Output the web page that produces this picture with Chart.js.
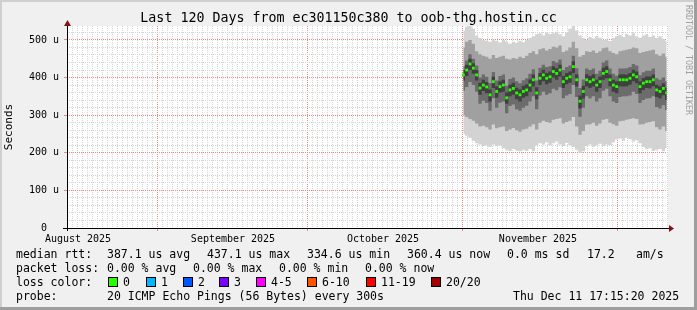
<!DOCTYPE html>
<html><head><meta charset="utf-8">
<script src="https://cdn.jsdelivr.net/npm/chart.js@4.4.1/dist/chart.umd.min.js"></script>
<style>
html,body{margin:0;padding:0;background:#F0F0F0;}
#wrap{position:relative;width:697px;height:310px;overflow:hidden;font-family:'DejaVu Sans Mono',monospace;}
#c{position:absolute;left:0;top:0;}
.t{position:absolute;font-size:11.5px;line-height:14px;white-space:pre;color:#000;}
.b{position:absolute;width:10px;height:10px;box-sizing:border-box;border:1px solid #000;}
#wm{position:absolute;left:684px;top:5px;writing-mode:vertical-rl;font-size:8.3px;line-height:9px;color:#a0a0a0;white-space:pre;}
</style></head><body>
<div id="wrap"><canvas id="c" width="697" height="310"></canvas><div id="wm">RRDTOOL / TOBI OETIKER</div></div>
<script>
const FONT = "'DejaVu Sans Mono', monospace";
const titleText = 'Last 120 Days from ec301150c380 to oob-thg.hostin.cc';

// sample time base: days since window start (Aug 13 17:15), one sample per ~16 h
const dayStart = 79.27, dayStep = 0.6667;

// median RTT (microseconds)
const medianRtt = [407,420,436,425,407,372,380,375,354,389,
 363,376,380,346,367,371,359,354,363,367,
 380,394,359,398,407,398,402,416,411,420,
 389,398,402,429,394,337,363,394,389,394,
 380,389,411,416,394,380,376,394,394,394,
 398,407,402,376,385,389,389,394,367,363,
 371,359];
// smoke envelopes (microseconds), outermost to innermost
const smokeMax = [525,535,537,530,512,505,500,498,495,502,
 497,493,500,496,490,495,492,498,494,500,
 505,510,515,518,512,520,516,518,522,515,
 510,520,530,537,525,512,505,500,508,504,
 510,506,500,502,497,505,510,514,508,516,
 512,518,510,506,512,515,508,512,505,510,
 502,498];
const smokeHi2 = [480,495,500,490,470,462,458,455,450,460,
 452,455,458,450,448,452,450,455,452,458,
 465,470,462,475,478,472,476,482,480,485,
 468,472,480,495,478,455,460,470,468,472,
 465,470,478,480,470,465,462,470,472,474,
 476,480,478,465,468,470,472,474,462,458,
 464,455];
const smokeHi1 = [430,445,462,450,432,400,408,402,385,415,
 392,404,408,378,396,400,390,385,393,398,
 410,422,392,426,434,428,430,444,440,448,
 420,428,432,458,425,372,395,424,420,424,
 410,418,440,445,424,410,405,424,424,425,
 428,436,432,406,414,418,418,424,398,394,
 400,390];
const smokeHi0 = [420,434,450,438,420,386,394,388,368,402,
 377,390,394,360,381,386,373,368,378,382,
 395,408,374,412,421,412,416,430,425,434,
 404,412,416,443,409,352,378,409,404,409,
 394,403,426,430,408,394,390,408,409,408,
 412,421,416,390,399,403,403,408,381,377,
 385,373];
const smokeLo0 = [392,404,420,410,392,354,364,358,336,372,
 346,360,362,330,350,354,342,336,346,350,
 362,376,342,380,390,382,386,400,394,403,
 372,382,386,412,376,318,344,376,372,376,
 362,372,394,398,377,362,358,377,376,377,
 381,390,385,358,367,372,371,377,348,344,
 353,340];
const smokeLo1 = [365,375,388,380,362,330,338,332,312,345,
 320,333,336,305,324,328,316,312,320,325,
 336,350,316,352,362,354,358,370,366,374,
 345,352,356,380,348,296,320,350,344,350,
 336,345,365,370,350,336,332,348,350,350,
 352,362,356,332,340,344,345,350,322,318,
 326,314];
const smokeLo2 = [300,295,290,285,278,270,272,268,262,275,
 265,268,270,258,262,266,260,256,262,264,
 270,276,262,280,285,282,280,288,290,292,
 278,282,285,295,270,248,258,275,276,280,
 272,278,288,290,280,276,272,284,285,288,
 290,292,290,275,276,280,282,284,268,262,
 270,258];
const smokeMin = [250,245,240,232,225,222,218,220,215,222,
 218,220,212,208,205,210,206,204,208,205,
 210,204,220,225,222,228,220,225,230,222,
 218,226,220,215,208,200,204,218,222,216,
 220,224,218,222,220,228,235,238,232,240,
 236,230,234,225,215,210,212,205,208,210,
 204,212];

const monthStarts = [18, 48, 79, 110];
const monthLabelDays = [2.2, 33.2, 63.2, 94.2];
const monthLabels = ['August 2025','September 2025','October 2025','November 2025'];
const yMajor = [0,100,200,300,400,500];
const yLabels = ['0  ','100 u','200 u','300 u','400 u','500 u'];
const lossColors = ['#26ff00','#00b8ff','#0059ff','#7e00ff','#ff00ff','#ff5500','#ff0000','#a10000'];
const lossLabels = ['0','1','2','3','4-5','6-10','11-19','20/20'];

const statLines = [
  [['median rtt:',16],['387.1 us avg',107],['437.1 us max',207],['334.6 us min',307],['360.4 us now',407],['0.0 ms sd',507],['17.2',587],['am/s',636]],
  [['packet loss:',16],['0.00 % avg',107],['0.00 % max',193],['0.00 % min',279],['0.00 % now',365]],
  [['loss color:',16]],
  [['probe:',16],['20 ICMP Echo Pings (56 Bytes) every 300s',107],['Thu Dec 11 17:15:20 2025',513]]
];
const lossBoxX = [108,146,183,219,256,307,366,431];

// ---- legend as HTML text ----
const wrap = document.getElementById('wrap');
statLines.forEach((line, li) => {
  line.forEach(([txt, x]) => {
    const s = document.createElement('div');
    s.className = 't'; s.textContent = txt;
    s.style.left = x + 'px'; s.style.top = (247 + li*14) + 'px';
    wrap.appendChild(s);
  });
});
lossColors.forEach((col, i) => {
  const b = document.createElement('div');
  b.className = 'b'; b.style.background = col;
  b.style.left = lossBoxX[i] + 'px'; b.style.top = '277px';
  wrap.appendChild(b);
  const s = document.createElement('div');
  s.className = 't'; s.textContent = lossLabels[i];
  s.style.left = (lossBoxX[i] + 15) + 'px'; s.style.top = (247 + 2*14) + 'px';
  wrap.appendChild(s);
});

const toPts = arr => arr.map((v, i) => ({x: dayStart + i*dayStep, y: v}));

const MAJ = 'rgb(238,136,136)';
const MIN = 'rgb(212,212,212)';
const NONE = 'rgba(0,0,0,0)';

const xTickVals = [];
for (let d = 0; d <= 120; d++) xTickVals.push(d);
monthLabelDays.forEach(d => xTickVals.push(d));
xTickVals.sort((a,b)=>a-b);
const yTickVals = [];
for (let v = 0; v <= 520; v += 20) yTickVals.push(v);

const bgPlugin = {
  id: 'bg',
  beforeDraw(ch) {
    const c = ch.ctx, a = ch.chartArea, W = ch.width, H = ch.height;
    c.save();
    c.fillStyle = '#F0F0F0'; c.fillRect(0,0,W,H);
    c.fillStyle = '#CFCFCF'; c.fillRect(0,0,W,2); c.fillRect(0,0,2,H);
    c.fillStyle = '#9E9E9E'; c.fillRect(0,H-3,W,3); c.fillRect(W-3,0,3,H);
    c.fillStyle = '#FFFFFF'; c.fillRect(a.left, a.top, a.right - a.left + 1, a.bottom - a.top);
    c.restore();
  },
  afterDraw(ch) {
    const c = ch.ctx, a = ch.chartArea;
    const y0 = Math.round(a.bottom) + 0.5, x0 = Math.round(a.left) + 0.5;
    c.save();
    c.strokeStyle = '#000'; c.lineWidth = 1;
    c.beginPath(); c.moveTo(a.left - 4, y0); c.lineTo(a.right + 2, y0); c.stroke();
    c.beginPath(); c.moveTo(x0, a.bottom + 3); c.lineTo(x0, a.top); c.stroke();
    c.fillStyle = '#801414';
    c.beginPath(); c.moveTo(x0 - 3.5, a.top); c.lineTo(x0 + 3.5, a.top); c.lineTo(x0, a.top - 6); c.closePath(); c.fill();
    c.beginPath(); c.moveTo(a.right + 2, y0 - 3.5); c.lineTo(a.right + 2, y0 + 3.5); c.lineTo(a.right + 7, y0); c.closePath(); c.fill();
    c.restore();
  }
};

const band = (data, target, color) => ({
  data: toPts(data), fill: target, backgroundColor: color,
  borderColor: NONE, borderWidth: 0, pointRadius: 0, stepped: 'middle'
});

new Chart(document.getElementById('c'), {
  type: 'line',
  data: {
    datasets: [
      { label: 'median', data: toPts(medianRtt), showLine: false, pointStyle: 'rect',
        pointRadius: 2, pointBorderWidth: 0, pointBackgroundColor: lossColors[0],
        borderColor: lossColors[0], backgroundColor: lossColors[0] },
      band(smokeLo0, 2, '#404040'),
      band(smokeHi0, false, NONE),
      band(smokeLo1, 4, '#6c6c6c'),
      band(smokeHi1, false, NONE),
      band(smokeLo2, 6, '#a0a0a0'),
      band(smokeHi2, false, NONE),
      band(smokeMin, 8, '#d3d3d3'),
      band(smokeMax, false, NONE)
    ]
  },
  options: {
    responsive: false, animation: false, devicePixelRatio: 1,
    layout: { padding: 0 },
    plugins: {
      legend: { display: false }, tooltip: { enabled: false },
      title: { display: true, text: titleText, color: '#000',
        font: { family: FONT, size: 13.3, weight: 'normal', lineHeight: '16px' },
        padding: { top: 11, bottom: -1 } }
    },
    scales: {
      x: {
        type: 'linear', min: 0, max: 120, z: 1,
        afterBuildTicks: s => { s.ticks = xTickVals.map(v => ({value: v})); },
        afterFit: s => { s.height = 82; },
        ticks: { autoSkip: false, maxRotation: 0, minRotation: 0, padding: 2, color: '#000',
          font: { family: FONT, size: 10 },
          callback: v => { const k = monthLabelDays.indexOf(v); return k >= 0 ? monthLabels[k] : ''; } },
        grid: { drawTicks: true, tickLength: 3, lineWidth: 1,
          color: c => { const v = c.tick ? c.tick.value : -1;
            if (monthStarts.includes(v)) return MAJ; if (monthLabelDays.includes(v)) return NONE; return MIN; },
          tickColor: c => (c.tick && monthStarts.includes(c.tick.value)) ? MAJ : NONE },
        border: { display: false, dash: [1,1] }
      },
      y: {
        min: 0, max: 537, z: 1,
        afterBuildTicks: s => { s.ticks = yTickVals.map(v => ({value: v})); },
        afterFit: s => { s.width = 67; },
        ticks: { autoSkip: false, padding: 5, color: '#000', font: { family: FONT, size: 10 },
          callback: v => { const k = yMajor.indexOf(v); return k >= 0 ? yLabels[k] : ''; } },
        grid: { drawTicks: true, tickLength: 3, lineWidth: 1,
          color: c => { const v = c.tick ? c.tick.value : -1; return (v % 100 === 0) ? MAJ : MIN; },
          tickColor: c => (c.tick && c.tick.value % 100 === 0) ? MAJ : NONE },
        border: { display: false, dash: [1,1] },
        title: { display: true, text: 'Seconds', color: '#000', font: { family: FONT, size: 11 },
          padding: { top: 3, bottom: 0 } }
      },
      yR: {
        position: 'right', display: true, min: 0, max: 1,
        grid: { display: false }, ticks: { display: false }, border: { display: false },
        afterFit: s => { s.width = 30; }
      }
    }
  },
  plugins: [bgPlugin]
});
</script>
</body></html>
